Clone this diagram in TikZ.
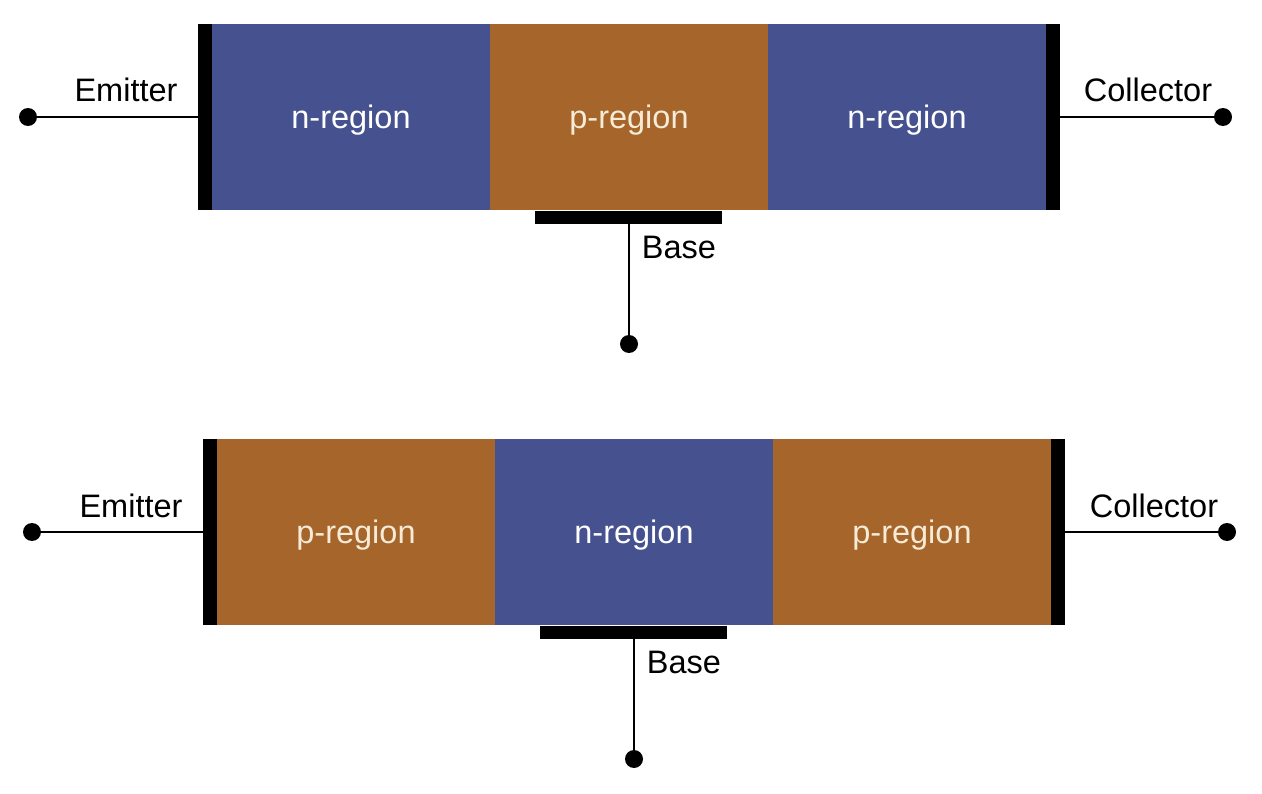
\documentclass[tikz,border=0pt]{standalone}
\usepackage{fontspec}
\setmainfont{Liberation Sans}
\usepackage{tikz}
\usetikzlibrary{positioning}
\usepackage{xcolor}

\definecolor{nblue}{HTML}{46528F}
\definecolor{pbrown}{HTML}{A5652B}
\definecolor{pcream}{HTML}{F6EBD6}

\tikzset{
  region/.style={minimum width=5.56cm, minimum height=3.72cm, inner sep=0pt, outer sep=0pt, text depth=0pt},
  nreg/.style={region, fill=nblue, text=white},
  preg/.style={region, fill=pbrown, text=pcream},
  contact/.style={fill=black, inner sep=0pt, outer sep=0pt, minimum width=0.28cm, minimum height=3.72cm},
  basecontact/.style={fill=black, inner sep=0pt, outer sep=0pt, minimum width=3.74cm, minimum height=0.26cm},
  terminal/.style={circle, fill=black, inner sep=0pt, minimum size=0.36cm},
  wire/.style={line width=0.8pt},
  lbl/.style={inner sep=0pt}
}

\begin{document}
\begin{tikzpicture}[x=0.02cm, y=-0.02cm, font=\fontsize{18.5}{22}\selectfont]

  % Tamanho da figura
  \useasboundingbox (0,0) rectangle (1262,794);

  % Transistor NPN
  \begin{scope}
    % Regioes
    \node[nreg] (npnE) at (351,117) {n-region};
    \node[preg] (npnB) at (629,117) {p-region};
    \node[nreg] (npnC) at (907,117) {n-region};

    % Contatos
    \node[contact, left=0pt of npnE] (npnEbar) {};
    \node[contact, right=0pt of npnC] (npnCbar) {};
    \node[basecontact, anchor=north] (npnBbar) at (628.5,211) {};

    % Terminais
    \node[terminal] (npnEdot) at (28,117) {};
    \node[terminal] (npnCdot) at (1223,117) {};
    \node[terminal] (npnBdot) at (629,344) {};

    % Fios
    \draw[wire] (npnEdot) -- (npnEbar.west);
    \draw[wire] (npnCbar.east) -- (npnCdot);
    \draw[wire] (npnBdot |- npnBbar.south) -- (npnBdot);

    % Rotulos
    \node[lbl] (npnEtxt) at (126,90) {Emitter};
    \node[lbl] (npnCtxt) at (1148,90) {Collector};
    \node[lbl] (npnBtxt) at (679,247) {Base};
  \end{scope}

  % Transistor PNP
  \begin{scope}
    % Regioes
    \node[preg] (pnpE) at (356,532) {p-region};
    \node[nreg] (pnpB) at (634,532) {n-region};
    \node[preg] (pnpC) at (912,532) {p-region};

    % Contatos
    \node[contact, left=0pt of pnpE] (pnpEbar) {};
    \node[contact, right=0pt of pnpC] (pnpCbar) {};
    \node[basecontact, anchor=north] (pnpBbar) at (633.5,626) {};

    % Terminais
    \node[terminal] (pnpEdot) at (32,532) {};
    \node[terminal] (pnpCdot) at (1227,532) {};
    \node[terminal] (pnpBdot) at (634,759) {};

    % Fios
    \draw[wire] (pnpEdot) -- (pnpEbar.west);
    \draw[wire] (pnpCbar.east) -- (pnpCdot);
    \draw[wire] (pnpBdot |- pnpBbar.south) -- (pnpBdot);

    % Rotulos
    \node[lbl] (pnpEtxt) at (131,506) {Emitter};
    \node[lbl] (pnpCtxt) at (1154,506) {Collector};
    \node[lbl] (pnpBtxt) at (684,662) {Base};
  \end{scope}

\end{tikzpicture}
\end{document}
